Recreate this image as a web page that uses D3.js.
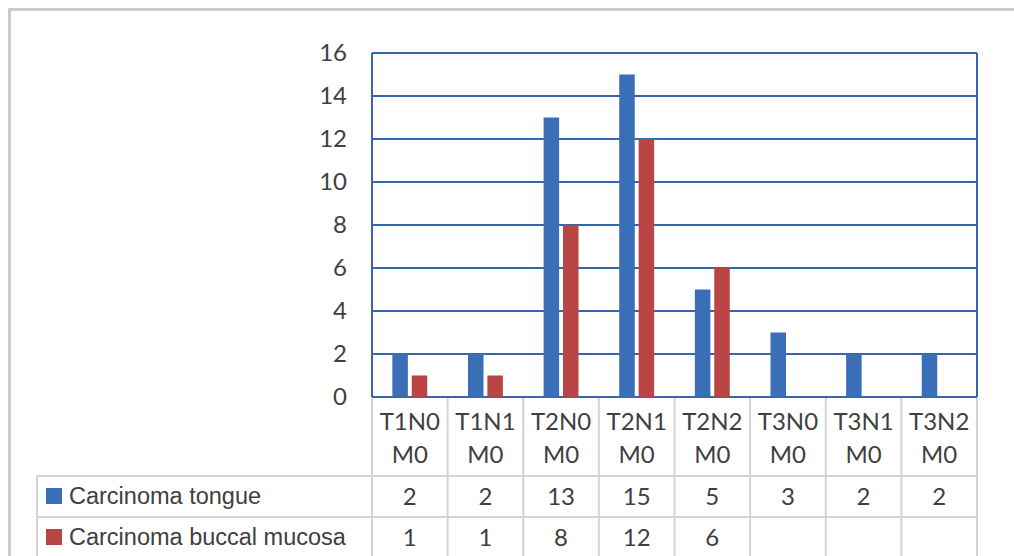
<!DOCTYPE html>
<html>
<head>
<meta charset="utf-8">
<script src="https://cdn.jsdelivr.net/npm/d3@7"></script>
<style>
  html, body { margin: 0; padding: 0; background: #fff; }
  svg { display: block; }
</style>
</head>
<body>
<svg id="chart" width="1014" height="556"></svg>
<script>
// TNM staging categories (two text lines each)
const categories = ["T1N0 M0", "T1N1 M0", "T2N0 M0", "T2N1 M0", "T2N2 M0", "T3N0 M0", "T3N1 M0", "T3N2 M0"];
const seriesNames = ["Carcinoma tongue", "Carcinoma buccal mucosa"];
const tongue = [2, 2, 13, 15, 5, 3, 2, 2];
const buccal = [1, 1, 8, 12, 6, null, null, null];
const yTicks = [0, 2, 4, 6, 8, 10, 12, 14, 16];

const colors = ["#3A6EB6", "#B94544"];
const gridColor = "#3566AE";
const tableColor = "#D4D4D4";
const textColor = "#404040";
const numFont = "Lato, 'Open Sans', sans-serif";

const svg = d3.select("#chart");
const plot = { left: 372, right: 977, top: 53, bottom: 397 };
const tableRows = [476, 517, 558];
const legendLeft = 37;

// Outer frame
svg.append("path")
  .attr("d", "M9.5,560 V9.5 H1020")
  .attr("fill", "none").attr("stroke", "#CCCCCC").attr("stroke-width", 3);

const x = d3.scaleBand().domain(categories).range([plot.left, plot.right]).paddingInner(0).paddingOuter(0);
const y = d3.scaleLinear().domain([0, 16]).range([plot.bottom, plot.top]);
const inner = d3.scaleBand().domain(seriesNames).range([0, x.bandwidth()]).paddingInner(0.2).paddingOuter(1.05);

// Horizontal grid lines
svg.append("g").selectAll("line").data(yTicks).join("line")
  .attr("x1", plot.left).attr("x2", plot.right)
  .attr("y1", d => y(d)).attr("y2", d => y(d))
  .attr("stroke", gridColor).attr("stroke-width", 2);

// Plot side borders
svg.append("g").selectAll("line").data([plot.left, plot.right]).join("line")
  .attr("x1", d => d).attr("x2", d => d)
  .attr("y1", plot.top).attr("y2", plot.bottom)
  .attr("stroke", gridColor).attr("stroke-width", 2);

// Y axis labels
const yAxis = d3.axisLeft(y).tickValues(yTicks).tickSize(0).tickPadding(25);
const ya = svg.append("g").attr("transform", `translate(${plot.left},0)`).call(yAxis);
ya.select(".domain").remove();
ya.selectAll("text")
  .attr("font-family", numFont)
  .attr("font-size", 24).attr("fill", textColor);

// Bars
const series = [tongue, buccal];
series.forEach((vals, si) => {
  svg.append("g").selectAll("rect")
    .data(categories.map((c, i) => ({ c, v: vals[i] })).filter(d => d.v != null))
    .join("rect")
    .attr("x", d => x(d.c) + inner(seriesNames[si]))
    .attr("width", inner.bandwidth())
    .attr("y", d => y(d.v))
    .attr("height", d => y(0) - y(d.v))
    .attr("fill", colors[si]);
});

// Data table lines
const tg = svg.append("g").attr("stroke", tableColor).attr("stroke-width", 2);
const colEdges = categories.map(c => x(c)).concat([plot.right]);
tg.selectAll("line.v").data(colEdges).join("line")
  .attr("x1", d => d).attr("x2", d => d)
  .attr("y1", plot.bottom + 1).attr("y2", 560);
tg.append("line").attr("x1", legendLeft).attr("x2", legendLeft).attr("y1", tableRows[0]).attr("y2", 560);
tableRows.slice(0, 2).forEach(r => {
  tg.append("line").attr("x1", legendLeft).attr("x2", plot.right).attr("y1", r).attr("y2", r);
});

// Category labels (two lines)
const catG = svg.append("g")
  .attr("font-family", numFont)
  .attr("font-size", 24).attr("fill", textColor).attr("text-anchor", "middle");
categories.forEach(c => {
  const [l1, l2] = c.split(" ");
  const cx = x(c) + x.bandwidth() / 2;
  catG.append("text").attr("x", cx).attr("y", 430).text(l1);
  catG.append("text").attr("x", cx).attr("y", 463).text(l2);
});

// Table rows: legend keys + values
series.forEach((vals, si) => {
  const rowTop = tableRows[si];
  const mid = rowTop + 20;
  svg.append("rect")
    .attr("x", 46).attr("y", mid - 8).attr("width", 16).attr("height", 16)
    .attr("fill", colors[si]);
  svg.append("text")
    .attr("x", 69).attr("y", mid + 8)
    .attr("font-family", "'Liberation Sans', Arial, sans-serif")
    .attr("font-size", 23.5).attr("fill", textColor)
    .text(seriesNames[si]);
  svg.append("g").selectAll("text")
    .data(categories.map((c, i) => ({ c, v: vals[i] })).filter(d => d.v != null))
    .join("text")
    .attr("x", d => x(d.c) + x.bandwidth() / 2)
    .attr("y", mid + 9)
    .attr("text-anchor", "middle")
    .attr("font-family", numFont)
    .attr("font-size", 24).attr("fill", textColor)
    .text(d => d.v);
});
</script>
</body>
</html>
